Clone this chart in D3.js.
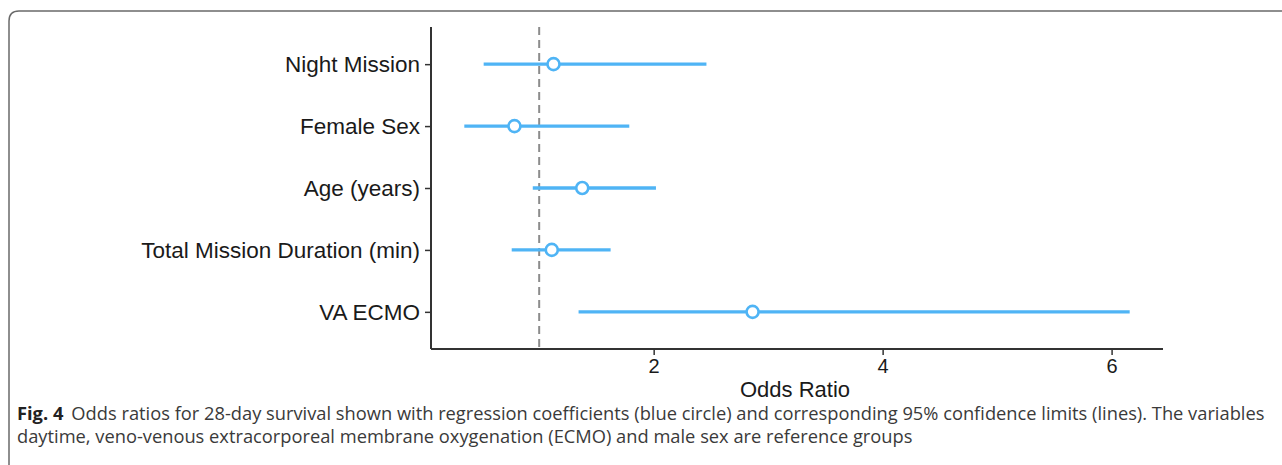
<!DOCTYPE html>
<html lang="en">
<head>
    <meta charset="UTF-8">
    <title>Odds ratios forest plot</title>
    <script src="https://d3js.org/d3.v7.min.js"></script>
    <style>
        body { margin: 0; background: #fff; }
        svg { display: block; }
        .ylab text, .xlab text { font-family: "Liberation Sans", Arial, sans-serif; fill: #1a1a1a; }
        .caption { font-family: "Open Sans", "Noto Sans", sans-serif; fill: #3a3a3a; }
    </style>
</head>
<body>
    <svg width="1282" height="465"></svg>

    <script>
        // values
        const variables = ["Night Mission", "Female Sex", "Age (years)", "Total Mission Duration (min)", "VA ECMO"];
        const oddsRatio = [1.125, 0.784, 1.376, 1.110, 2.864];
        const lowerCI  = [0.515, 0.346, 0.944, 0.760, 1.344];
        const upperCI  = [2.461, 1.787, 2.020, 1.624, 6.158];
        const xTicks = [2, 4, 6];
        const refLine = 1;
        const captionBold = "Fig. 4";
        const captionLines = [
            "Odds ratios for 28-day survival shown with regression coefficients (blue circle) and corresponding 95% confidence limits (lines). The variables",
            "daytime, veno-venous extracorporeal membrane oxygenation (ECMO) and male sex are reference groups"
        ];

        const rows = variables.map((v, i) => ({ name: v, or: oddsRatio[i], lo: lowerCI[i], hi: upperCI[i] }));

        const svg = d3.select("svg");
        const blue = "#4fb4f5";

        // outer frame (open on right and bottom)
        svg.append("path")
            .attr("d", "M9,465 L9,21 Q9,11 19,11 L1282,11")
            .attr("fill", "none")
            .attr("stroke", "#6a6a6a")
            .attr("stroke-width", 1.5);

        const plot = { left: 431, right: 1163, top: 27, bottom: 349 };

        const x = d3.scaleLinear()
            .domain([0.055, 6.449])
            .range([plot.left, plot.right]);

        const y = d3.scalePoint()
            .domain(variables)
            .range([plot.top, plot.bottom])
            .padding(0.6);

        // reference line at OR = 1
        svg.append("line")
            .attr("x1", x(refLine)).attr("x2", x(refLine))
            .attr("y1", plot.top).attr("y2", plot.bottom)
            .attr("stroke", "#8c8c8c")
            .attr("stroke-width", 2)
            .attr("stroke-dasharray", "8,5");

        // y axis
        const yAxis = svg.append("g")
            .attr("class", "ylab")
            .attr("transform", `translate(${plot.left},0)`)
            .call(d3.axisLeft(y).tickSize(6).tickPadding(5));
        yAxis.select(".domain").attr("stroke", "#333").attr("stroke-width", 2)
            .attr("d", `M0,${plot.top}V${plot.bottom}`);
        yAxis.selectAll(".tick line").attr("stroke", "#333").attr("stroke-width", 1.5);
        yAxis.selectAll("text").attr("font-size", 22.5).attr("fill", "#1a1a1a");

        // x axis
        const xAxis = svg.append("g")
            .attr("class", "xlab")
            .attr("transform", `translate(0,${plot.bottom})`)
            .call(d3.axisBottom(x).tickValues(xTicks).tickSize(6).tickPadding(4).tickFormat(d3.format("d")));
        xAxis.select(".domain").attr("stroke", "#333").attr("stroke-width", 2)
            .attr("d", `M${plot.left},0H${plot.right}`);
        xAxis.selectAll(".tick line").attr("stroke", "#333").attr("stroke-width", 1.5);
        xAxis.selectAll("text").attr("font-size", 20).attr("fill", "#1a1a1a");

        svg.append("g").attr("class", "xlab")
            .append("text")
            .attr("x", 795)
            .attr("y", 397)
            .attr("text-anchor", "middle")
            .attr("font-size", 22)
            .text("Odds Ratio");

        // confidence intervals
        svg.append("g").selectAll("line")
            .data(rows)
            .join("line")
            .attr("x1", d => x(d.lo))
            .attr("x2", d => x(d.hi))
            .attr("y1", d => y(d.name))
            .attr("y2", d => y(d.name))
            .attr("stroke", blue)
            .attr("stroke-width", 3.4);

        // point estimates
        svg.append("g").selectAll("circle")
            .data(rows)
            .join("circle")
            .attr("cx", d => x(d.or))
            .attr("cy", d => y(d.name))
            .attr("r", 6)
            .attr("fill", "#fff")
            .attr("stroke", blue)
            .attr("stroke-width", 2.6);

        // caption
        const cap = svg.append("g").attr("class", "caption");
        const line1 = cap.append("text")
            .attr("x", 17)
            .attr("y", 420)
            .attr("font-size", 18.3);
        line1.append("tspan").attr("font-weight", "bold").attr("fill", "#222").text(captionBold);
        line1.append("tspan").attr("dx", 8).text(captionLines[0]);

        cap.append("text")
            .attr("x", 17)
            .attr("y", 443)
            .attr("font-size", 18.3)
            .text(captionLines[1]);
    </script>
</body>
</html>
